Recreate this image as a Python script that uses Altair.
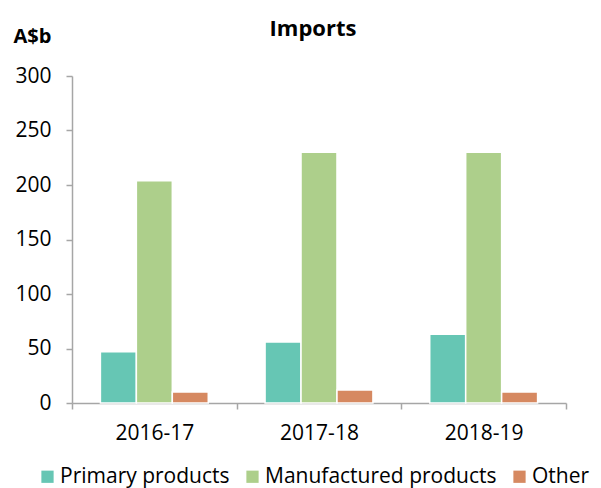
import altair as alt
import pandas as pd

years = ["2016-17", "2017-18", "2018-19"]
series = ["Primary products", "Manufactured products", "Other"]
primary = [47, 56, 63]
manufactured = [204, 230, 230]
other = [10, 12, 10]
colors = ["#66C6B4", "#ADCF8B", "#D68961"]

rows = []
for i, y in enumerate(years):
    for s, vals in zip(series, [primary, manufactured, other]):
        rows.append({"year": y, "series": s, "value": vals[i]})
df = pd.DataFrame(rows)

FONT = "Open Sans"
AXIS_COLOR = "#A6A6A6"

chart = alt.Chart(df).mark_bar(stroke="white", strokeWidth=1.5).encode(
    x=alt.X("year:N", sort=years, title=None,
            scale=alt.Scale(paddingInner=0, paddingOuter=0),
            axis=alt.Axis(labelAngle=0, tickBand="extent", domainColor=AXIS_COLOR,
                          domainWidth=1.5, tickColor=AXIS_COLOR, tickWidth=1.5,
                          tickSize=6, labelPadding=13, labelFontSize=21,
                          labelFont=FONT, labelColor="#000000")),
    xOffset=alt.XOffset("series:N", sort=series,
                        scale=alt.Scale(paddingInner=0, paddingOuter=0.79)),
    y=alt.Y("value:Q", scale=alt.Scale(domain=[0, 300]),
            axis=alt.Axis(values=[0, 50, 100, 150, 200, 250, 300], grid=False,
                          domainColor=AXIS_COLOR, domainWidth=1.5,
                          tickColor=AXIS_COLOR, tickWidth=1.5, tickSize=6,
                          labelPadding=15, labelFontSize=21, labelFont=FONT,
                          labelColor="#000000",
                          title="A$b", titleAngle=0, titleAlign="left",
                          titleBaseline="middle", titleX=-59, titleY=-40,
                          titleFont=FONT, titleFontSize=20, titleFontWeight="bold",
                          titleColor="#000000")),
    color=alt.Color("series:N", sort=series,
                    scale=alt.Scale(domain=series, range=colors),
                    legend=alt.Legend(orient="none", direction="horizontal",
                                      legendX=-35, legendY=390, title=None,
                                      symbolType="square", symbolSize=150,
                                      symbolStrokeWidth=0, labelFont=FONT,
                                      labelFontSize=21, labelColor="#000000",
                                      labelLimit=0,
                                      columnPadding=12, labelOffset=2)),
).properties(
    width=494,
    height=327,
    title=alt.TitleParams("Imports", font=FONT, fontSize=22, fontWeight="bold",
                          color="#000000", anchor="middle", offset=-15, dx=-6),
    autosize=alt.AutoSizeParams(type="none"),
    padding={"left": 64, "top": 68, "right": 27, "bottom": 85},
).configure_view(stroke=None)

chart.save("out.html", embed_options={"renderer": "svg", "actions": False})
